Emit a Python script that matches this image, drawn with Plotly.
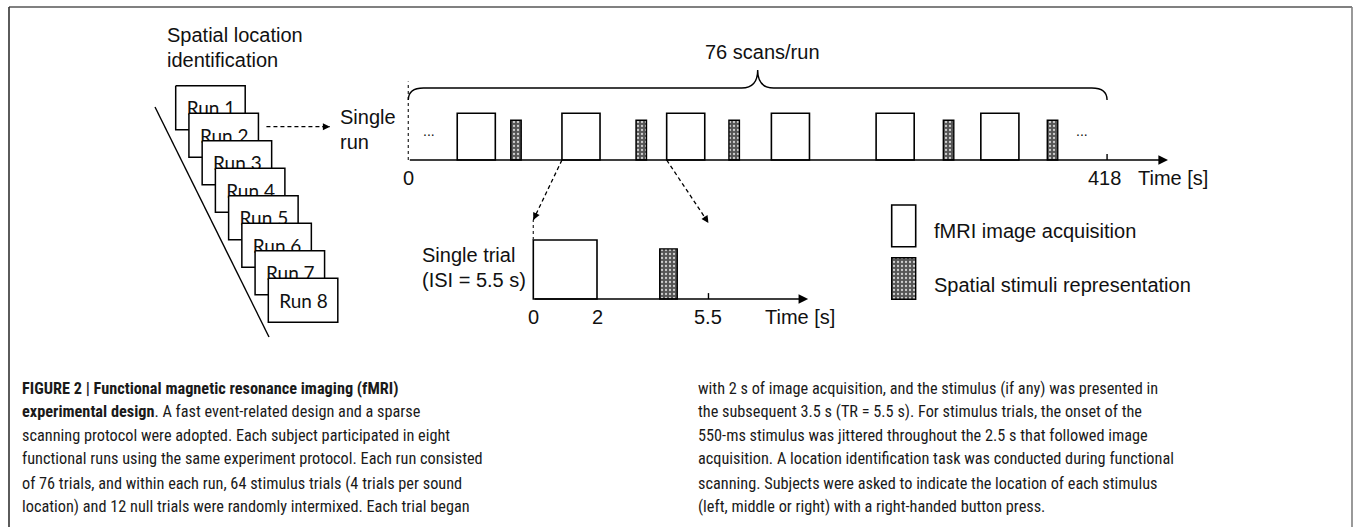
import plotly.graph_objects as go

W, H = 1355, 527

# ---------------- data ----------------
runs = ["Run 1", "Run 2", "Run 3", "Run 4", "Run 5", "Run 6", "Run 7", "Run 8"]
run_acq_onsets = [2.57, 8.07, 13.57, 19.07, 24.57, 30.07]      # schematic seconds within the run
run_stim_onsets = [5.38, 11.96, 16.84, 28.10, 33.56]
run_end_pos = 36.7                                              # schematic position of 418 s
run_tick_vals = [0, 36.7]
run_tick_text = ["0", "418"]
trial_acq_onsets = [0.0]
trial_stim_onsets = [3.97]
trial_tick_vals = [0, 2, 5.5]
trial_tick_text = ["0", "2", "5.5"]
acq_duration = 2.0
stim_duration = 0.55
acq_height = 1.0
stim_height = 0.85
TR = 5.5

caption_left = [
    "<b>FIGURE 2 | Functional magnetic resonance imaging (fMRI)</b>",
    "<b>experimental design</b>. A fast event-related design and a sparse",
    "scanning protocol were adopted. Each subject participated in eight",
    "functional runs using the same experiment protocol. Each run consisted",
    "of 76 trials, and within each run, 64 stimulus trials (4 trials per sound",
    "location) and 12 null trials were randomly intermixed. Each trial began",
]
caption_right = [
    "with 2 s of image acquisition, and the stimulus (if any) was presented in",
    "the subsequent 3.5 s (TR = 5.5 s). For stimulus trials, the onset of the",
    "550-ms stimulus was jittered throughout the 2.5 s that followed image",
    "acquisition. A location identification task was conducted during functional",
    "scanning. Subjects were asked to indicate the location of each stimulus",
    "(left, middle or right) with a right-handed button press.",
]

# ---------------- layout scales ----------------
TOP = dict(x0=408.3, ppx=19.04, y0=160.0, ppy=46.7)
BOT = dict(x0=533.3, ppx=31.85, y0=299.0, ppy=59.0)


def ranges(s):
    return ([-s["x0"] / s["ppx"], (W - s["x0"]) / s["ppx"]],
            [-(H - s["y0"]) / s["ppy"], s["y0"] / s["ppy"]])


def to_px(s, x, y):
    return s["x0"] + x * s["ppx"], s["y0"] - y * s["ppy"]


SANS = "Liberation Sans, Arimo, Arial, sans-serif"
NARROW = "Roboto Condensed, DejaVu Sans Condensed, sans-serif"
RUNFONT = "Lato, Open Sans, sans-serif"
INK = "#111111"

pattern = dict(shape=".", bgcolor="#555555", fgcolor="#cfcfcf", size=4, solidity=0.25, fillmode="replace")

fig = go.Figure()

# ---- top timeline (single run) ----
fig.add_trace(go.Bar(
    x=[o + acq_duration / 2 for o in run_acq_onsets], y=[acq_height] * len(run_acq_onsets),
    base=0, width=[acq_duration] * len(run_acq_onsets),
    marker=dict(color="white", line=dict(color="black", width=1.6)),
    xaxis="x", yaxis="y", showlegend=False, hoverinfo="skip"))
fig.add_trace(go.Bar(
    x=[o + stim_duration / 2 for o in run_stim_onsets], y=[stim_height] * len(run_stim_onsets),
    base=0, width=[stim_duration] * len(run_stim_onsets),
    marker=dict(color="#555555", line=dict(color="black", width=1.4), pattern=pattern),
    xaxis="x", yaxis="y", showlegend=False, hoverinfo="skip"))
# tick at end of run
fig.add_trace(go.Scatter(x=[run_end_pos, run_end_pos], y=[0, 0.13], mode="lines",
                         line=dict(color="black", width=1.4), xaxis="x", yaxis="y",
                         showlegend=False, hoverinfo="skip"))
# dotted start marker
fig.add_trace(go.Scatter(x=[0, 0], y=[0, 1.68], mode="lines",
                         line=dict(color="#333", width=1.3, dash="dot"), xaxis="x", yaxis="y",
                         showlegend=False, hoverinfo="skip"))

# ---- bottom timeline (single trial) ----
fig.add_trace(go.Bar(
    x=[o + acq_duration / 2 for o in trial_acq_onsets], y=[acq_height] * len(trial_acq_onsets),
    base=0, width=[acq_duration] * len(trial_acq_onsets),
    marker=dict(color="white", line=dict(color="black", width=1.6)),
    xaxis="x2", yaxis="y2", showlegend=False, hoverinfo="skip"))
fig.add_trace(go.Bar(
    x=[o + stim_duration / 2 for o in trial_stim_onsets], y=[stim_height] * len(trial_stim_onsets),
    base=0, width=[stim_duration] * len(trial_stim_onsets),
    marker=dict(color="#555555", line=dict(color="black", width=1.4), pattern=pattern),
    xaxis="x2", yaxis="y2", showlegend=False, hoverinfo="skip"))
fig.add_trace(go.Scatter(x=[TR, TR], y=[0, 0.1], mode="lines",
                         line=dict(color="black", width=1.4), xaxis="x2", yaxis="y2",
                         showlegend=False, hoverinfo="skip"))
fig.add_trace(go.Scatter(x=[0, 0], y=[acq_height, 1.34], mode="lines",
                         line=dict(color="#333", width=1.3, dash="dot"), xaxis="x2", yaxis="y2",
                         showlegend=False, hoverinfo="skip"))

# ---- legend swatches (canvas) ----
fig.add_trace(go.Bar(x=[903.7], y=[-41.7], base=246.7, width=[24],
                     marker=dict(color="white", line=dict(color="black", width=1.6)),
                     xaxis="x3", yaxis="y3", showlegend=False, hoverinfo="skip"))
fig.add_trace(go.Bar(x=[903.7], y=[-41.6], base=299.3, width=[24],
                     marker=dict(color="#555555", line=dict(color="black", width=1.4), pattern=pattern),
                     xaxis="x3", yaxis="y3", showlegend=False, hoverinfo="skip"))

# ---- stack of runs (canvas) ----
bx0, by0, bdx, bdy, bw, bh = 175.7, 85.7, 13.23, 27.5, 69.5, 44.0
for i, name in enumerate(runs):
    x0, y0 = bx0 + i * bdx, by0 + i * bdy
    fig.add_trace(go.Scatter(x=[x0, x0 + bw, x0 + bw, x0, x0], y=[y0, y0, y0 + bh, y0 + bh, y0],
                             mode="lines", fill="toself", fillcolor="white",
                             line=dict(color="black", width=1.5),
                             xaxis="x3", yaxis="y3", showlegend=False, hoverinfo="skip"))
    fig.add_trace(go.Scatter(x=[x0 + bw / 2 + 0.5], y=[y0 + bh / 2 + 3], mode="text", text=[name],
                             textfont=dict(family=RUNFONT, size=19, color=INK),
                             xaxis="x3", yaxis="y3", showlegend=False, hoverinfo="skip"))
# diagonal line beside runs
fig.add_trace(go.Scatter(x=[155, 269], y=[107, 337], mode="lines", line=dict(color="black", width=1.4),
                         xaxis="x3", yaxis="y3", showlegend=False, hoverinfo="skip"))

shapes = []
annotations = []

# frame
shapes += [
    dict(type="line", xref="x3", yref="y3", x0=9, y0=7, x1=1352, y1=7, line=dict(color="#808080", width=2)),
    dict(type="line", xref="x3", yref="y3", x0=9, y0=7, x1=9, y1=527, line=dict(color="#333333", width=1.6)),
    dict(type="line", xref="x3", yref="y3", x0=1352, y0=7, x1=1352, y1=527, line=dict(color="#808080", width=1.6)),
]

# brace over run
yb, yf, yp = 1.285, 1.542, 1.927
r = 0.8
mid = run_end_pos / 2
path = (f"M 0,{yb} Q 0,{yf} {r},{yf} L {mid - r * 1.05},{yf} Q {mid},{yf} {mid},{yp} "
        f"Q {mid},{yf} {mid + r * 1.05},{yf} L {run_end_pos - r},{yf} Q {run_end_pos},{yf} {run_end_pos},{yb}")
shapes.append(dict(type="path", xref="x", yref="y", path=path, line=dict(color="black", width=1.4)))

# axis arrows
annotations.append(dict(xref="x", yref="y", axref="x", ayref="y", x=39.9, y=0, ax=0, ay=0, text="",
                        showarrow=True, arrowhead=2, arrowsize=1.2, arrowwidth=1.6, arrowcolor="black"))
annotations.append(dict(xref="x2", yref="y2", axref="x2", ayref="y2", x=8.63, y=0, ax=0, ay=0, text="",
                        showarrow=True, arrowhead=2, arrowsize=1.2, arrowwidth=1.6, arrowcolor="black"))


def dashed_arrow(p0, p1, width=1.3):
    shapes.append(dict(type="line", xref="x3", yref="y3", x0=p0[0], y0=p0[1], x1=p1[0], y1=p1[1],
                       line=dict(color="black", width=width, dash="4px,3px")))
    dx, dy = p1[0] - p0[0], p1[1] - p0[1]
    L = (dx * dx + dy * dy) ** 0.5
    annotations.append(dict(xref="x3", yref="y3", x=p1[0], y=p1[1], ax=-dx / L * 9, ay=-dy / L * 9,
                            text="", showarrow=True, arrowhead=2, arrowsize=1.1, arrowwidth=width,
                            arrowcolor="black"))


# runs -> single run
dashed_arrow((bx0 + bdx + bw + 8, 126.7), (330, 126.7))
# zoom from run to trial
dashed_arrow(to_px(TOP, run_acq_onsets[1], 0), to_px(BOT, 0, 1.34))
dashed_arrow(to_px(TOP, run_acq_onsets[2], 0), to_px(BOT, TR, 1.29))


def label(x, y, text, size=20, anchor="left", family=SANS, color=INK):
    annotations.append(dict(xref="x3", yref="y3", x=x, y=y, text=text, showarrow=False,
                            xanchor=anchor, yanchor="middle",
                            font=dict(family=family, size=size, color=color)))


label(165, 35, "Spatial location")
label(165, 60, "identification")
label(338.3, 116.7, "Single")
label(338.3, 141.7, "run")
label(762, 51.7, "76 scans/run", anchor="center")
label(420, 255, "Single trial")
label(420, 280, "(ISI = 5.5 s)")
label(931.7, 230.7, "fMRI image acquisition")
label(931.7, 285, "Spatial stimuli representation")

for v, t in zip(run_tick_vals, run_tick_text):
    px, py = to_px(TOP, v, 0)
    label(px - (3 if t != "0" else 0), py + 18, t, anchor="center")
label(1173, 178, "Time [s]", anchor="center")
for v, t in zip(trial_tick_vals, trial_tick_text):
    px, py = to_px(BOT, v, 0)
    label(px, py + 18, t, anchor="center")
label(800, 317, "Time [s]", anchor="center")

# ellipses
px, py = to_px(TOP, 1.09, 0.535)
label(px, py - 4, "...", size=14, anchor="center")
px, py = to_px(TOP, 35.37, 0.535)
label(px, py - 4, "...", size=14, anchor="center")

# caption
row_y = [388.3, 411.7, 435.0, 458.3, 483.3, 506.7]
for y, t in zip(row_y, caption_left):
    label(20, y, t, size=16.3, family=NARROW, color="#1a1a1a")
for y, t in zip(row_y, caption_right):
    label(696, y, t, size=16.3, family=NARROW, color="#1a1a1a")

xr, yr = ranges(TOP)
xr2, yr2 = ranges(BOT)
ax_common = dict(visible=False, fixedrange=True, domain=[0, 1])
fig.update_layout(
    width=W, height=H, margin=dict(l=0, r=0, t=0, b=0), autosize=False,
    paper_bgcolor="white", plot_bgcolor="rgba(0,0,0,0)",
    barmode="overlay", bargap=0, showlegend=False,
    xaxis=dict(range=xr, anchor="y", **ax_common),
    yaxis=dict(range=yr, anchor="x", **ax_common),
    xaxis2=dict(range=xr2, anchor="y2", **ax_common),
    yaxis2=dict(range=yr2, anchor="x2", **ax_common),
    xaxis3=dict(range=[0, W], anchor="y3", **ax_common),
    yaxis3=dict(range=[H, 0], anchor="x3", **ax_common),
    shapes=shapes, annotations=annotations,
)

fig.write_html("out.html", config=dict(displayModeBar=False, staticPlot=True),
               post_script="document.body.style.margin='0';document.body.style.overflow='hidden';")
